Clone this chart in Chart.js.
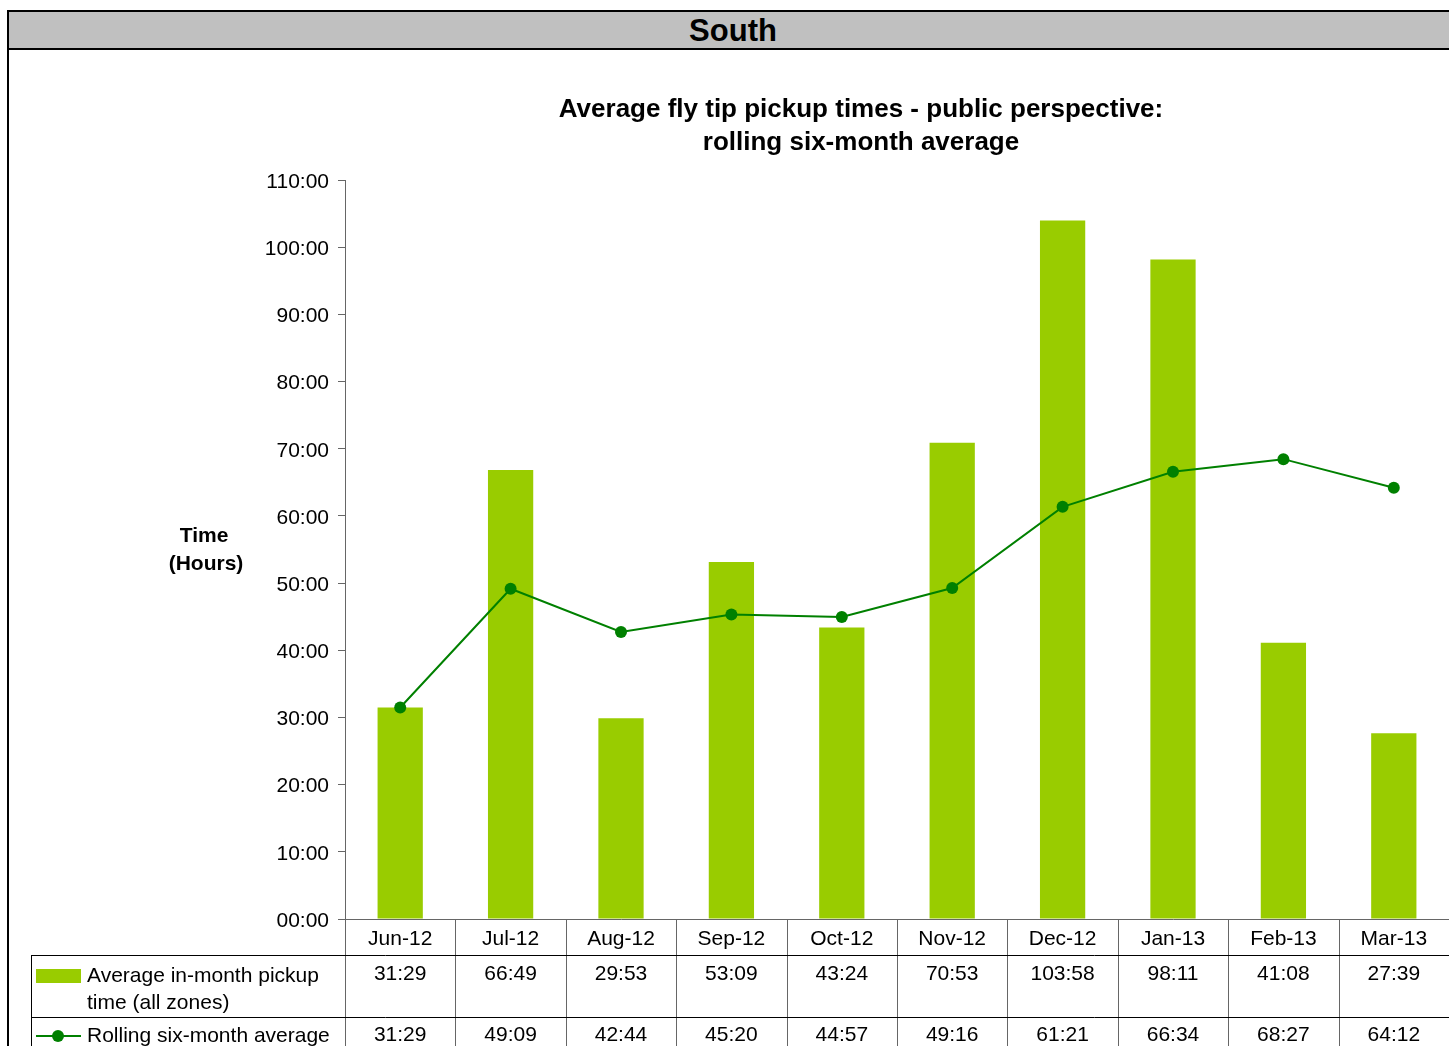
<!DOCTYPE html>
<html lang="en">
<head>
    <meta charset="UTF-8">
    <title>South - fly tip pickup times</title>
    <script src="https://cdn.jsdelivr.net/npm/chart.js"></script>
    <style>
        body {
            margin: 0;
            background: #fff;
            font-family: "Liberation Sans", Arial, sans-serif;
        }
        #frame {
            position: absolute;
            left: 7px;
            top: 10px;
            width: 1460px;
            height: 1100px;
            border-left: 2px solid #000;
        }
        #header {
            position: absolute;
            left: 7px;
            top: 10px;
            width: 1460px;
            height: 36px;
            background: #c0c0c0;
            border: 2px solid #000;
            font-weight: bold;
            font-size: 31px;
            line-height: 37px;
        }
        #header span {
            position: absolute;
            left: 724px;
            transform: translateX(-50%);
        }
        #chart {
            position: absolute;
            left: 0;
            top: 0;
        }
    </style>
</head>
<body>
<div id="frame"></div>
<div id="header"><span>South</span></div>
<canvas id="chart" width="1449" height="1046"></canvas>
<script>
    const months = ['Jun-12', 'Jul-12', 'Aug-12', 'Sep-12', 'Oct-12', 'Nov-12', 'Dec-12', 'Jan-13', 'Feb-13', 'Mar-13'];
    const monthlyAvg = ['31:29', '66:49', '29:53', '53:09', '43:24', '70:53', '103:58', '98:11', '41:08', '27:39'];
    const rollingAvg = ['31:29', '49:09', '42:44', '45:20', '44:57', '49:16', '61:21', '66:34', '68:27', '64:12'];
    const titleLines = ['Average fly tip pickup times - public perspective:', 'rolling six-month average'];
    const axisTitle = ['Time', '(Hours)'];

    // "hh:mm" -> decimal hours
    function toHours(s) {
        const p = s.split(':');
        return parseInt(p[0], 10) + parseInt(p[1], 10) / 60;
    }

    const FONT = '"Liberation Sans", Arial, sans-serif';
    const BAR = '#99cc00';
    const LINE = '#008000';

    const tablePlugin = {
        id: 'tablePlugin',
        afterDraw(chart) {
            const ctx = chart.ctx;
            const x = chart.scales.x;
            const area = chart.chartArea;
            ctx.save();

            // chart title
            ctx.fillStyle = '#000';
            ctx.textAlign = 'center';
            ctx.textBaseline = 'middle';
            ctx.font = 'bold 26px ' + FONT;
            ctx.fillText(titleLines[0], 861, 110);
            ctx.fillText(titleLines[1], 861, 143);

            // y axis title
            ctx.font = 'bold 21px ' + FONT;
            ctx.fillText(axisTitle[0], 204, 536);
            ctx.fillText(axisTitle[1], 206, 564);

            // data table grid
            const top = area.bottom;
            const row1 = 955, row2 = 1017, bottom = 1046;
            const bounds = [x.left];
            for (let i = 1; i < months.length; i++) {
                bounds.push((x.getPixelForValue(i - 1) + x.getPixelForValue(i)) / 2);
            }

            ctx.strokeStyle = '#666';
            ctx.lineWidth = 1;
            bounds.forEach(b => {
                ctx.beginPath();
                ctx.moveTo(Math.round(b) + 0.5, top);
                ctx.lineTo(Math.round(b) + 0.5, bottom);
                ctx.stroke();
            });

            ctx.strokeStyle = '#000';
            [row1, row2].forEach(y => {
                ctx.beginPath();
                ctx.moveTo(31, y + 0.5);
                ctx.lineTo(x.right, y + 0.5);
                ctx.stroke();
            });
            ctx.beginPath();
            ctx.moveTo(31.5, row1);
            ctx.lineTo(31.5, bottom);
            ctx.stroke();

            // values
            ctx.font = '21px ' + FONT;
            ctx.fillStyle = '#000';
            ctx.textAlign = 'center';
            months.forEach((m, i) => {
                const cx = x.getPixelForValue(i);
                ctx.fillText(monthlyAvg[i], cx, 974);
                ctx.fillText(rollingAvg[i], cx, 1035);
            });

            // legend keys
            ctx.fillStyle = BAR;
            ctx.fillRect(36, 969, 45, 14);
            ctx.strokeStyle = LINE;
            ctx.lineWidth = 2;
            ctx.beginPath();
            ctx.moveTo(36, 1036);
            ctx.lineTo(81, 1036);
            ctx.stroke();
            ctx.fillStyle = LINE;
            ctx.beginPath();
            ctx.arc(58, 1036, 6, 0, Math.PI * 2);
            ctx.fill();

            ctx.fillStyle = '#000';
            ctx.textAlign = 'left';
            ctx.fillText('Average in-month pickup', 87, 976);
            ctx.fillText('time (all zones)', 87, 1003);
            ctx.fillText('Rolling six-month average', 87, 1036);

            ctx.restore();
        }
    };

    new Chart(document.getElementById('chart'), {
        type: 'bar',
        data: {
            labels: months,
            datasets: [
                {
                    type: 'line',
                    label: 'Rolling six-month average',
                    data: rollingAvg.map(toHours),
                    borderColor: LINE,
                    backgroundColor: LINE,
                    borderWidth: 2,
                    pointRadius: 6,
                    pointBorderWidth: 0,
                    tension: 0,
                    order: 0
                },
                {
                    type: 'bar',
                    label: 'Average in-month pickup time (all zones)',
                    data: monthlyAvg.map(toHours),
                    backgroundColor: BAR,
                    barPercentage: 0.41,
                    categoryPercentage: 1,
                    order: 1
                }
            ]
        },
        options: {
            responsive: false,
            animation: false,
            layout: {
                autoPadding: false,
                padding: { top: 180, left: 0, right: 0, bottom: 0 }
            },
            plugins: {
                legend: { display: false },
                title: { display: false },
                tooltip: { enabled: false }
            },
            scales: {
                x: {
                    grid: { display: false },
                    border: { display: true, color: '#666', width: 1 },
                    ticks: {
                        color: '#000',
                        font: { family: FONT, size: 21 },
                        padding: 0,
                        maxRotation: 0
                    },
                    afterFit: s => {
                        s.height = 127;
                        s.paddingLeft = 0;
                        s.paddingRight = 0;
                    }
                },
                y: {
                    min: 0,
                    max: 110,
                    grid: {
                        drawOnChartArea: false,
                        drawTicks: true,
                        tickLength: 7,
                        color: '#666'
                    },
                    border: { display: true, color: '#666', width: 1 },
                    ticks: {
                        stepSize: 10,
                        color: '#000',
                        font: { family: FONT, size: 21 },
                        padding: 9,
                        labelOffset: 2,
                        callback: v => String(v).padStart(2, '0') + ':00'
                    },
                    afterFit: s => { s.width = 345; }
                }
            }
        },
        plugins: [tablePlugin]
    });
</script>
</body>
</html>
